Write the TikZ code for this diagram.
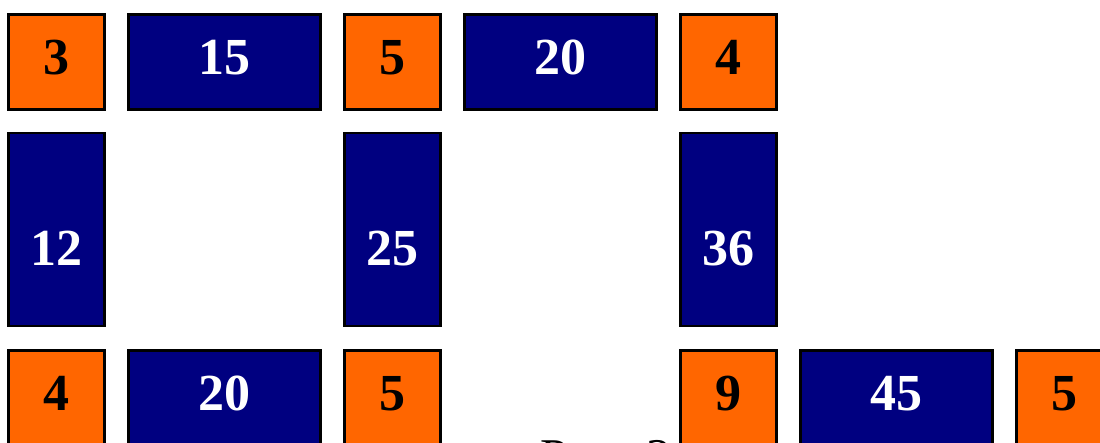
\documentclass[tikz,border=0pt]{standalone}
\usepackage{fontspec}
\setmainfont{Liberation Serif}
\definecolor{tileorange}{HTML}{FF6600}
\definecolor{tilenavy}{HTML}{000080}

\begin{document}
\begin{tikzpicture}[
    x=0.5pt, y=-0.5pt,
    cell/.style={draw=black, line width=1.2pt, inner sep=0pt,
        font=\fontsize{26}{30}\selectfont\bfseries,
        text height=17.5pt, text depth=4.5pt},
    sq/.style={cell, fill=tileorange, text=black, minimum width=48pt, minimum height=47.5pt},
    wide/.style={cell, fill=tilenavy, text=white, minimum width=96pt, minimum height=47.5pt},
    tall/.style={cell, fill=tilenavy, text=white, minimum width=48pt, minimum height=96.5pt,
        text height=36pt, text depth=0pt}
]
    \useasboundingbox (0,0) rectangle (1100,443);

    % 第一行
    \node[sq]   (a1) at (56.5, 62) {3};
    \node[wide] (a2) at (224.5, 62) {15};
    \node[sq]   (a3) at (392.5, 62) {5};
    \node[wide] (a4) at (560.5, 62) {20};
    \node[sq]   (a5) at (728.5, 62) {4};

    % 第二行 (竖条)
    \node[tall] (b1) at (56.5, 229.5) {12};
    \node[tall] (b3) at (392.5, 229.5) {25};
    \node[tall] (b5) at (728.5, 229.5) {36};

    % 第三行
    \node[sq]   (c1) at (56.5, 398) {4};
    \node[wide] (c2) at (224.5, 398) {20};
    \node[sq]   (c3) at (392.5, 398) {5};
    \node[sq]   (c5) at (728.5, 398) {9};
    \node[wide] (c6) at (896.5, 398) {45};
    \node[sq]   (c7) at (1064.5, 398) {5};

    % 图注
    \node[anchor=base west, inner sep=0pt, font=\fontsize{25}{30}\selectfont] (cap) at (540, 474) {Рис. 2};
\end{tikzpicture}
\end{document}
